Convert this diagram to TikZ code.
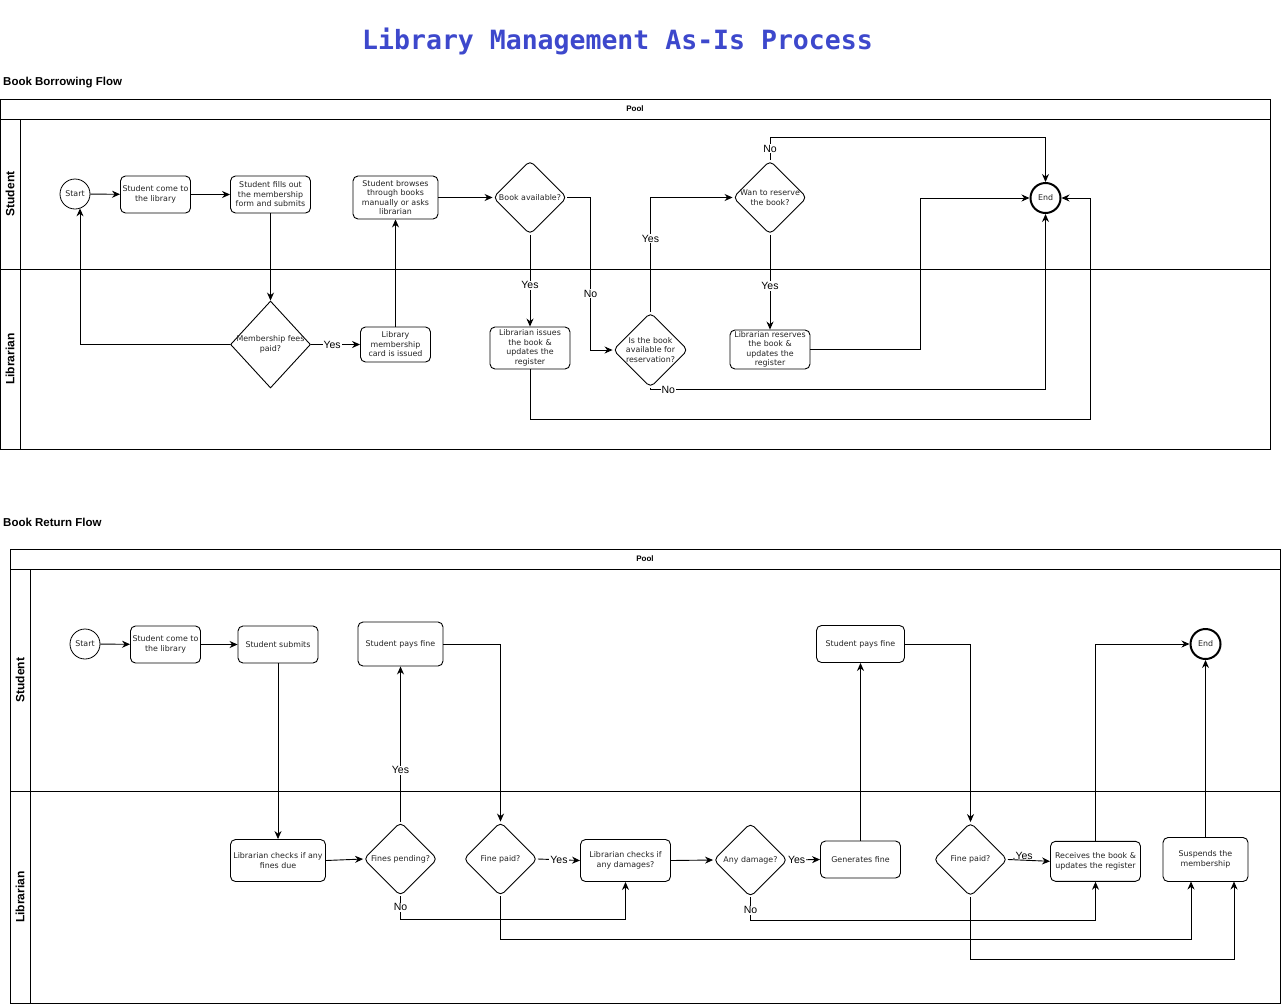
\documentclass[tikz,border=0pt]{standalone}
\usepackage{fontspec}
\setmainfont{DejaVu Sans}
\newfontfamily\lblfont{Liberation Sans}
\newfontfamily\ttlfont{DejaVu Sans Mono}
\usetikzlibrary{shapes.geometric,arrows.meta,calc}
\definecolor{ttlblue}{RGB}{61,72,204}
\definecolor{txtgray}{RGB}{35,35,35}
\begin{document}
\begin{tikzpicture}[x=1pt,y=-1pt,
  nfont/.style={font=\fontsize{7.9}{9.5}\selectfont, text=txtgray},
  box/.style={draw, rounded corners=5pt, line width=0.9pt, align=center, inner sep=1pt, nfont},
  sz/.style 2 args={minimum width=#1pt, minimum height=#2pt},
  dia/.style={draw, diamond, rounded corners=5pt, line width=0.9pt, inner sep=0pt, minimum width=#1pt, minimum height=#1pt},
  sharpdia/.style 2 args={draw, diamond, line width=0.9pt, inner sep=0pt, minimum width=#1pt, minimum height=#2pt},
  dtext/.style={nfont, align=center},
  startc/.style={draw, circle, minimum size=30pt, inner sep=0pt, line width=0.8pt, nfont},
  endc/.style={draw, circle, minimum size=30pt, inner sep=0pt, line width=2pt, nfont},
  arr/.style={draw, line width=0.9pt, -{Stealth[length=8pt,width=7pt]}},
  lbl/.style={fill=white, inner sep=1pt, font=\lblfont\fontsize{10.5}{12}\selectfont},
  lane/.style={draw, line width=1pt},
  lanetitle/.style={font=\lblfont\bfseries\fontsize{12}{14}\selectfont, rotate=90},
  pooltitle/.style={font=\lblfont\bfseries\fontsize{8}{10}\selectfont},
  heading/.style={font=\lblfont\bfseries\fontsize{11.5}{14}\selectfont, anchor=west, inner sep=0pt}
]
\useasboundingbox (0,0) rectangle (1281,1004);

% Title and headings
\node[font=\ttlfont\bfseries\fontsize{26.5}{30}\selectfont, text=ttlblue] (title) at (617.5,41) {Library Management As-Is Process};
\node[heading] (h1) at (3,83) {Book Borrowing Flow};
\node[heading] (h2) at (3,522) {Book Return Flow};

% ---------- Pool 1 ----------
\draw[lane] (0,99) rectangle (1270,449);
\draw[lane] (0,119) -- (1270,119);
\draw[lane] (20,119) -- (20,449);
\draw[lane] (0,269) -- (1270,269);
\node[pooltitle] (p1) at (635,109) {Pool};
\node[lanetitle] (l1s) at (10,194) {Student};
\node[lanetitle] (l1l) at (10,359) {Librarian};

\node[startc] (s1) at (75,194) {Start};
\node[box, sz={70}{37}] (come1) at (155.5,194.5) {Student come to\\the library};
\node[box, sz={80}{37}] (fill) at (270.5,194.5) {Student fills out\\the membership\\form and submits};
\node[box, sz={85}{43}] (brw) at (395.5,197.5) {Student browses\\through books\\manually or asks\\librarian};
\node[dia=74, label={[dtext]center:Book available?}] (ba) at (530,197.5) {};
\node[dia=74, label={[dtext]center:{Wan to reserve\\the book?}}] (wan) at (770,197.5) {};
\node[endc] (e1) at (1045.5,198) {End};
\node[sharpdia={80}{87}, label={[dtext]center:{Membership fees\\paid?}}] (mem) at (270.5,344.5) {};
\node[box, sz={70}{35}] (card) at (395.5,344.5) {Library\\membership\\card is issued};
\node[box, sz={80}{42}] (iss) at (530,348) {Librarian issues\\the book \&\\updates the\\register};
\node[dia=75, label={[dtext]center:{Is the book\\available for\\reservation?}}] (res) at (650.5,350) {};
\node[box, sz={80}{39}] (rsv) at (770,349.5) {Librarian reserves\\the book \&\\updates the\\register};

\draw[arr] (s1) -- (come1);
\draw[arr] (come1) -- (fill);
\draw[arr] (fill) -- (mem.north);
\draw[arr] (mem.west) -| ($(s1.south)+(5,-1)$);
\draw[arr] (mem.east) -- node[lbl, pos=0.43]{Yes} (card.west);
\draw[arr] (card.north) -- (brw.south);
\draw[arr] (brw.east) -- (ba.west);
\draw[arr] (ba.south) -- node[lbl, pos=0.55]{Yes} (iss.north);
\draw[arr] (ba.east) -- (590.5,197.5) -- node[lbl, pos=0.63]{No} (590.5,350) -- (res.west);
\draw[arr] (res.north) -- node[lbl, pos=0.64]{Yes} (650.5,197.5) -- (wan.west);
\draw[arr] (wan.north) -- node[lbl, pos=0.5]{No} (770,137) -- (1045.5,137) -- (e1.north);
\draw[arr] (wan.south) -- node[lbl, pos=0.54]{Yes} (rsv.north);
\draw[arr] (rsv.east) -- (920,349.5) -- (920,198) -- (e1.west);
\draw[arr] (res.south) -- (650.5,389.5) -- node[lbl, pos=0.045]{No} (1045.5,389.5) -- (e1.south);
\draw[arr] (iss.south) -- (530,419) -- (1090,419) -- (1090,198) -- (e1.east);

% ---------- Pool 2 ----------
\draw[lane] (10,549) rectangle (1280,1003);
\draw[lane] (10,569) -- (1280,569);
\draw[lane] (30,569) -- (30,1003);
\draw[lane] (10,791) -- (1280,791);
\node[pooltitle] (p2) at (645,559) {Pool};
\node[lanetitle] (l2s) at (20,680) {Student};
\node[lanetitle] (l2l) at (20,897) {Librarian};

\node[startc] (s2) at (85,644) {Start};
\node[box, sz={70}{37}] (come2) at (165.5,644.5) {Student come to\\the library};
\node[box, sz={80}{37}] (sub) at (278,644.5) {Student submits};
\node[box, sz={85}{44}] (pay1) at (400.5,644) {Student pays fine};
\node[box, sz={88}{37}] (pay2) at (860.5,644) {Student pays fine};
\node[endc] (e2) at (1205.5,644) {End};
\node[box, sz={95}{42}] (chf) at (278,860.5) {Librarian checks if any\\fines due};
\node[dia=74, label={[dtext]center:Fines pending?}] (fpen) at (400.5,859) {};
\node[dia=74, label={[dtext]center:Fine paid?}] (fpa1) at (500.5,859) {};
\node[box, sz={90}{42}] (chd) at (625.5,860.5) {Librarian checks if\\any damages?};
\node[dia=74, label={[dtext]center:Any damage?}] (ad) at (750.5,860) {};
\node[box, sz={80}{37}] (gen) at (860.5,859.5) {Generates fine};
\node[dia=74, label={[dtext]center:Fine paid?}] (fpa2) at (970.5,859.5) {};
\node[box, sz={90}{40}] (rcv) at (1095.5,861.3) {Receives the book \&\\updates the register};
\node[box, sz={85}{44}] (sus) at (1205.5,859.5) {Suspends the\\membership};

\draw[arr] (s2) -- (come2);
\draw[arr] (come2) -- (sub);
\draw[arr] (sub.south) -- (chf.north);
\draw[arr] (chf.east) -- (fpen.west);
\draw[arr] (fpen.north) -- node[lbl, pos=0.33]{Yes} (pay1.south);
\draw[arr] (fpen.south) -- node[lbl, pos=0.48]{No} (400.5,919) -- (625.5,919) -- (chd.south);
\draw[arr] (pay1.east) -- (500.5,644) -- (fpa1.north);
\draw[arr] (fpa1.east) -- node[lbl, pos=0.5]{Yes} (chd.west);
\draw[arr] (fpa1.south) -- (500.5,939) -- (1191,939) -- (1191,881.5);
\draw[arr] (chd.east) -- (ad.west);
\draw[arr] (ad.east) -- node[lbl, pos=0.27]{Yes} (gen.west);
\draw[arr] (ad.south) -- node[lbl, pos=0.57]{No} (750.5,920) -- (1095.5,920) -- (rcv.south);
\draw[arr] (gen.north) -- (pay2.south);
\draw[arr] (pay2.east) -- (970.5,644) -- (fpa2.north);
\draw[arr] (fpa2.east) -- node[pos=0.35, above=-3pt, font=\lblfont\fontsize{10.5}{12}\selectfont]{.Yes} (rcv.west);
\draw[arr] (fpa2.south) -- (970.5,959) -- (1234,959) -- (1234,881.5);
\draw[arr] (rcv.north) -- (1095.5,644) -- (e2.west);
\draw[arr] (sus.north) -- (e2.south);
\end{tikzpicture}
\end{document}
